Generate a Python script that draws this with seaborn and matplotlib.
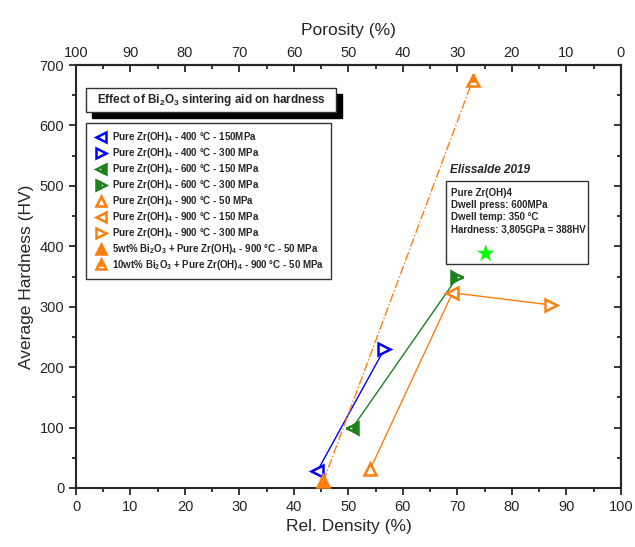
import numpy as np
import pandas as pd
import matplotlib
matplotlib.use("Agg")
import matplotlib.pyplot as plt
from matplotlib.patches import Rectangle
from matplotlib.ticker import MultipleLocator
import seaborn as sns

# dane
etykiety = [
    "Pure Zr(OH)$_4$ - 400 °C - 150MPa",
    "Pure Zr(OH)$_4$ - 400 °C - 300 MPa",
    "Pure Zr(OH)$_4$ - 600 °C - 150 MPa",
    "Pure Zr(OH)$_4$ - 600 °C - 300 MPa",
    "Pure Zr(OH)$_4$ - 900 °C - 50 MPa",
    "Pure Zr(OH)$_4$ - 900 °C - 150 MPa",
    "Pure Zr(OH)$_4$ - 900 °C - 300 MPa",
    "5wt% Bi$_2$O$_3$ + Pure Zr(OH)$_4$ - 900 °C - 50 MPa",
    "10wt% Bi$_2$O$_3$ + Pure Zr(OH)$_4$ - 900 °C - 50 MPa",
]
gestosc = [44.3, 56.6, 50.7, 70.0, 54.0, 69.1, 87.1, 45.4, 72.8]
twardosc = [28, 230, 99, 349, 31, 323, 303, 11, 675]
grupa = ["400", "400", "600", "600", "900", "900", "900", "Bi", "Bi"]

elissalde_gestosc = [75.2]
elissalde_twardosc = [388]

niebieski = "#0000FF"
zielony = "#1E801E"
pomaranczowy = "#FF7F0E"
kolory = [niebieski, niebieski, zielony, zielony, pomaranczowy, pomaranczowy,
          pomaranczowy, pomaranczowy, pomaranczowy]
markery = ["<", ">", "<", ">", "^", "<", ">", "^", "^"]
wypelnienie = ["none", "none", "right", "left", "none", "none", "none", "full", "top"]

df = pd.DataFrame({"gestosc": gestosc, "twardosc": twardosc, "grupa": grupa})

sns.set_style("ticks")
plt.rcParams["font.family"] = ["Liberation Sans", "DejaVu Sans"]
plt.rcParams["mathtext.fontset"] = "custom"
plt.rcParams["mathtext.rm"] = "Liberation Sans:bold"
plt.rcParams["mathtext.default"] = "rm"

fig = plt.figure(figsize=(6.35, 5.47), dpi=100)
ax = fig.add_axes([0.1197, 0.108, 0.858, 0.773])

# linie laczace punkty
style_linii = {"400": (niebieski, "-"), "600": (zielony, "-"),
               "900": (pomaranczowy, "-"), "Bi": (pomaranczowy, "-.")}
for g, (kol, ls) in style_linii.items():
    sub = df[df["grupa"] == g]
    sns.lineplot(data=sub, x="gestosc", y="twardosc", sort=False, estimator=None,
                 color=kol, linestyle=ls, linewidth=1.0, ax=ax, legend=False)

# markery
uchwyty = []
for i in range(len(etykiety)):
    fs = wypelnienie[i]
    if fs == "none":
        kw = dict(markerfacecolor="white", fillstyle="full")
    else:
        kw = dict(fillstyle=fs, markerfacecoloralt="white")
    (h,) = ax.plot([gestosc[i]], [twardosc[i]], linestyle="none", marker=markery[i],
                   markersize=8, markeredgewidth=1.8, color=kolory[i],
                   markeredgecolor=kolory[i], label=etykiety[i], zorder=5, **kw)
    uchwyty.append(h)

sns.scatterplot(x=elissalde_gestosc, y=elissalde_twardosc, marker="*", s=180,
                color="#00FF00", edgecolor="none", ax=ax, zorder=5)

ax.set_xlim(0, 100)
ax.set_ylim(0, 700)
ax.xaxis.set_major_locator(MultipleLocator(10))
ax.xaxis.set_minor_locator(MultipleLocator(5))
ax.yaxis.set_major_locator(MultipleLocator(100))
ax.yaxis.set_minor_locator(MultipleLocator(50))
ax.tick_params(which="both", direction="out", labelsize=10.5, width=1.3)
ax.tick_params(which="major", length=5)
ax.tick_params(which="minor", length=3)
ax.set_xlabel("Rel. Density (%)", fontsize=12.5)
ax.set_ylabel("Average Hardness (HV)", fontsize=12.5)
for s in ax.spines.values():
    s.set_linewidth(1.5)

gora = ax.secondary_xaxis("top", functions=(lambda x: 100 - x, lambda x: 100 - x))
gora.xaxis.set_major_locator(MultipleLocator(10))
gora.xaxis.set_minor_locator(MultipleLocator(5))
gora.tick_params(which="both", direction="in", labelsize=10.5, width=1.3)
gora.tick_params(which="major", length=5)
gora.tick_params(which="minor", length=3)
gora.set_xlabel("Porosity (%)", fontsize=12.5, labelpad=8)
gora.spines["top"].set_linewidth(1.5)

prawa = ax.secondary_yaxis("right")
prawa.yaxis.set_major_locator(MultipleLocator(100))
prawa.yaxis.set_minor_locator(MultipleLocator(50))
prawa.tick_params(which="both", direction="in", labelright=False, width=1.3)
prawa.tick_params(which="major", length=5)
prawa.tick_params(which="minor", length=3)
prawa.spines["right"].set_linewidth(1.5)

# tytul w ramce z cieniem
ax.add_patch(Rectangle((0.029, 0.875), 0.459, 0.057, transform=ax.transAxes,
                       facecolor="black", edgecolor="black", zorder=6))
ax.add_patch(Rectangle((0.018, 0.889), 0.459, 0.057, transform=ax.transAxes,
                       facecolor="white", edgecolor="#333333", linewidth=1.0, zorder=7))
ax.text(0.248, 0.917, "Effect of Bi$_2$O$_3$ sintering aid on hardness",
        transform=ax.transAxes, ha="center", va="center", fontsize=8.5,
        fontweight="bold", zorder=8)

leg = ax.legend(handles=uchwyty, loc="upper left", bbox_to_anchor=(0.018, 0.863),
                borderaxespad=0, prop={"weight": "bold", "size": 7},
                frameon=True, fancybox=False, edgecolor="#333333", framealpha=1,
                handletextpad=0.3, labelspacing=0.2, handlelength=1.6,
                borderpad=0.75, markerscale=0.85)
leg.get_frame().set_linewidth(1.0)
leg.set_zorder(9)

# ramka Elissalde
ax.text(68.6, 526, "Elissalde 2019", fontsize=8.5, fontweight="bold",
        fontstyle="italic", va="center", ha="left")
ax.add_patch(Rectangle((68.0, 371), 25.9, 137, facecolor="none",
                       edgecolor="#333333", linewidth=1.0, zorder=4))
linie = ["Pure Zr(OH)4", "Dwell press: 600MPa", "Dwell temp: 350 °C",
         "Hardness: 3,805GPa = 388HV"]
for k, t in enumerate(linie):
    ax.text(68.9, 489 - k * 20.5, t, fontsize=7, fontweight="bold",
            va="center", ha="left")

fig.savefig("out.png", dpi=100)
